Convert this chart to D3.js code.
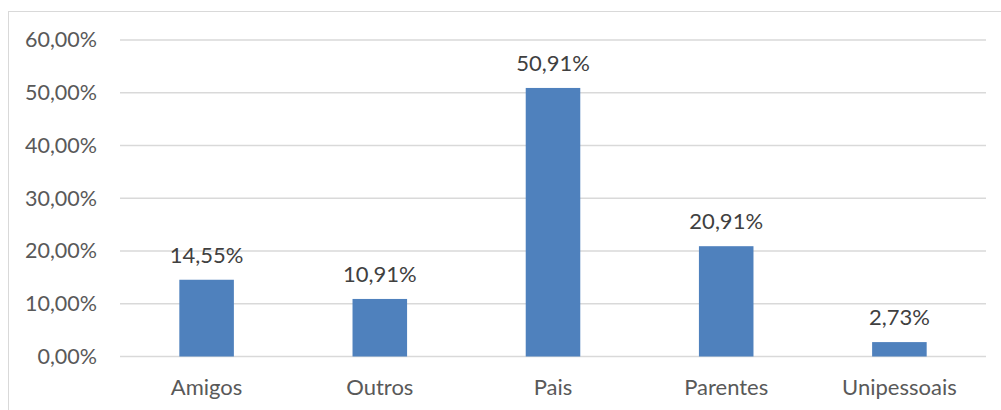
<!DOCTYPE html>
<html><head><meta charset="utf-8">
<script src="https://cdn.jsdelivr.net/npm/d3@7"></script>
<style>body{margin:0;background:#fff}svg{display:block}text{font-family:Lato,"Open Sans",sans-serif}</style>
</head><body>
<svg id="c" width="1001" height="410"></svg>
<script>
const categories = ["Amigos","Outros","Pais","Parentes","Unipessoais"];
const values = [14.55, 10.91, 50.91, 20.91, 2.73];
const tickValues = [0,10,20,30,40,50,60];

const svg = d3.select("#c");
const fmt = v => d3.format(".2f")(v).replace(".", ",") + "%";

// frame
svg.append("rect").attr("x",8.5).attr("y",11.5).attr("width",1100).attr("height",500)
  .attr("fill","none").attr("stroke","#d9d9d9").attr("stroke-width",1);

const x = d3.scaleBand().domain(categories).range([120,986]).padding(0);
const y = d3.scaleLinear().domain([0,60]).range([356.5,40]);

// gridlines
svg.append("g").selectAll("line").data(tickValues).join("line")
  .attr("x1",120).attr("x2",986).attr("y1",d=>y(d)).attr("y2",d=>y(d))
  .attr("stroke","#d9d9d9").attr("stroke-width",1.3);

// y axis labels
const yAxis = d3.axisLeft(y).tickValues(tickValues).tickFormat(fmt).tickSize(0).tickPadding(23);
const ga = svg.append("g").attr("transform","translate(120,0)").call(yAxis);
ga.select(".domain").remove();
ga.selectAll("text").attr("fill","#595959").style("font-size","21.5px").attr("font-family","Lato");

const bw = x.bandwidth()*0.315;
svg.append("g").selectAll("rect").data(values).join("rect")
  .attr("x",(d,i)=>x(categories[i])+x.bandwidth()/2-bw/2)
  .attr("width",bw)
  .attr("y",d=>y(d)).attr("height",d=>y(0)-y(d))
  .attr("fill","#4f81bd");

svg.append("g").selectAll("text").data(values).join("text")
  .attr("x",(d,i)=>x(categories[i])+x.bandwidth()/2)
  .attr("y",d=>y(d)-17)
  .attr("text-anchor","middle").attr("fill","#404040").style("font-size","22px")
  .text(d=>fmt(d));

// x axis labels
const xAxis = d3.axisBottom(x).tickSize(0).tickPadding(23);
const gx = svg.append("g").attr("transform","translate(0,356.5)").call(xAxis);
gx.select(".domain").remove();
gx.selectAll("text").attr("fill","#595959").style("font-size","22px").attr("font-family","Lato");
</script>
</body></html>
